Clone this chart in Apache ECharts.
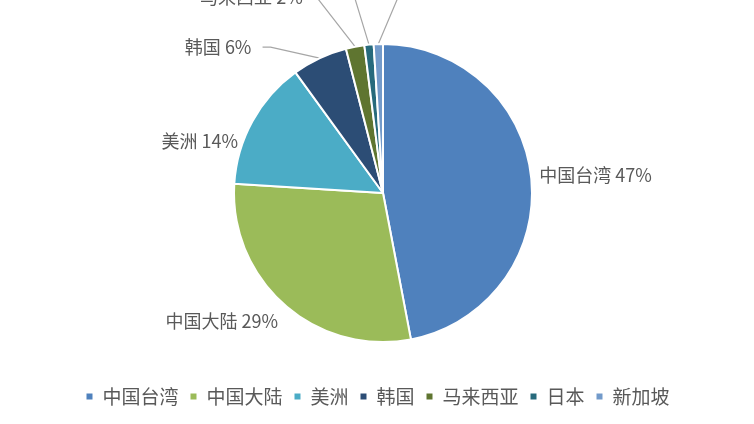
<!DOCTYPE html>
<html>
<head>
<meta charset="utf-8">
<script src="https://cdn.jsdelivr.net/npm/echarts@6/dist/echarts.min.js"></script>
<style>
    html, body { margin: 0; padding: 0; background: #fff; }
    #chart { width: 754px; height: 424px; }
</style>
</head>
<body>
<div id="chart"></div>
<script>
// 地区及占比
var regions = ['中国台湾', '中国大陆', '美洲', '韩国', '马来西亚', '日本', '新加坡'];
var shares = [47, 29, 14, 6, 2, 1, 1];
var colors = ['#4f81bd', '#9bbb59', '#4bacc6', '#2c4d75', '#5f7530', '#276a7c', '#729aca'];

// 引导线长度
var lineLen = [5, 5, 5, 12, 50, 80, 80];
var lineLen2 = [0, 0, 0, 58, 38, 20, 20];
var lineShow = [false, false, false, true, true, true, true];
// 标签微调
var labelDx = [-2, 2, -5, 0, 0, 0, 0];
var labelDy = [-3, 13, 22, 0, 0, 0, 0];
// 引导线折点(相对扇区边缘的偏移)
var bends = [null, null, null, [-49, -11, -57, -11], [-35, -45, -45, -58], [-14, -46, -20, -70], [19, -45, 30, -70]];

var pieData = [];
for (let i = 0; i < regions.length; i++) {
    pieData.push({
        name: regions[i],
        value: shares[i],
        itemStyle: { color: colors[i] },
        labelLine: {
            show: lineShow[i],
            length: lineLen[i],
            length2: lineLen2[i]
        }
    });
}

var myChart = echarts.init(document.getElementById('chart'));
var option = {
    backgroundColor: '#FFF',
    animation: false,
    legend: {
        top: 382,
        left: 'center',
        icon: 'rect',
        itemWidth: 8,
        itemHeight: 8,
        itemGap: 10,
        textStyle: {
            color: '#595959',
            fontSize: 19,
            fontFamily: 'Noto Sans CJK SC',
            padding: [0, 0, 0, 4]
        },
        data: regions
    },
    series: [
        {
            type: 'pie',
            center: [383, 193],
            radius: 149,
            startAngle: 90,
            avoidLabelOverlap: false,
            itemStyle: {
                borderColor: '#fff',
                borderWidth: 2
            },
            label: {
                show: true,
                formatter: '{b} {c}%',
                color: '#595959',
                fontSize: 18,
                fontFamily: 'Noto Sans CJK SC'
            },
            labelLine: {
                lineStyle: {
                    color: '#a6a6a6',
                    width: 1.2
                }
            },
            labelLayout: function (params) {
                var i = params.dataIndex;
                var out = { dx: labelDx[i], dy: labelDy[i] };
                var b = bends[i];
                if (b && params.labelLinePoints) {
                    var p0 = params.labelLinePoints[0];
                    out.labelLinePoints = [
                        [p0[0], p0[1]],
                        [p0[0] + b[0], p0[1] + b[1]],
                        [p0[0] + b[2], p0[1] + b[3]]
                    ];
                }
                return out;
            },
            data: pieData
        }
    ]
};
myChart.setOption(option);
</script>
</body>
</html>
